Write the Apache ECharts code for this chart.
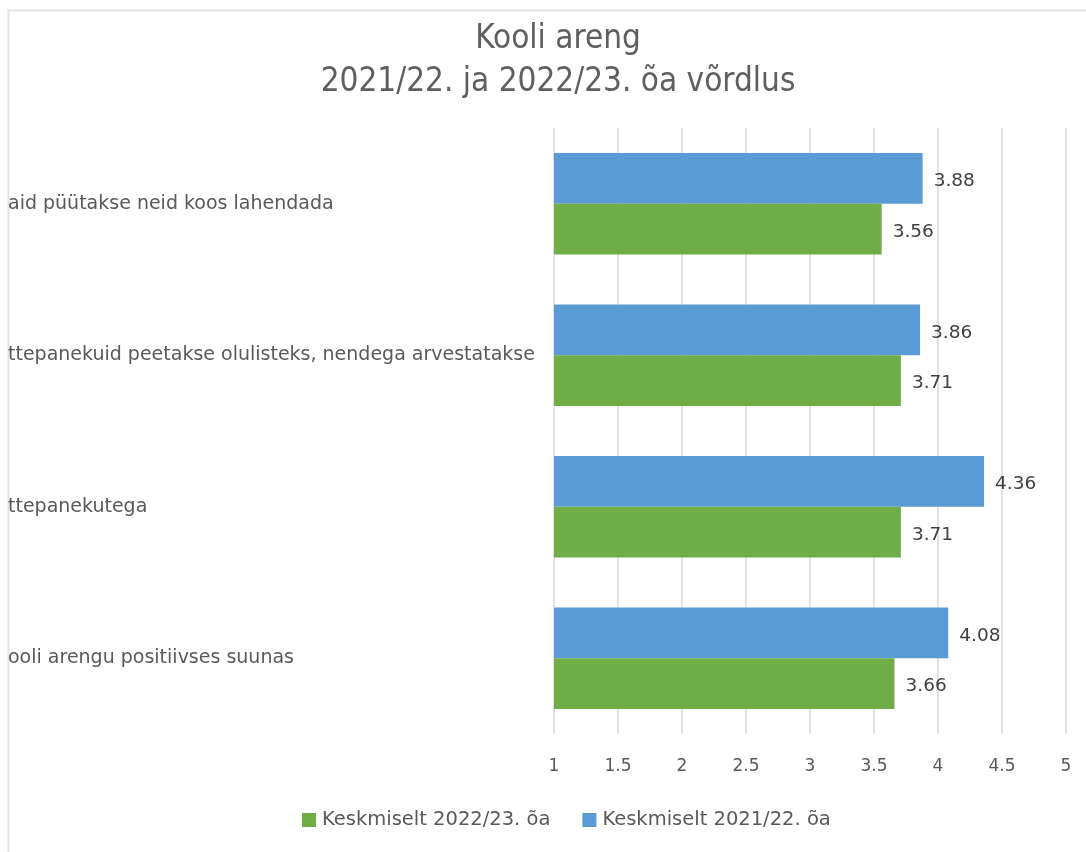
<!DOCTYPE html>
<html>
<head>
<meta charset="utf-8">
<script src="https://cdn.jsdelivr.net/npm/echarts@6/dist/echarts.min.js"></script>
<style>
html,body{margin:0;padding:0;background:#fff;}
#chart{width:1086px;height:852px;}
</style>
</head>
<body>
<div id="chart"></div>
<script>
var titleText = 'Kooli areng\n2021/22. ja 2022/23. õa võrdlus';
var categories = [
  'aid püütakse neid koos lahendada',
  'ttepanekuid peetakse olulisteks, nendega arvestatakse',
  'ttepanekutega',
  'ooli arengu positiivses suunas'
];
var seriesNames = ['Keskmiselt 2022/23. õa', 'Keskmiselt 2021/22. õa'];
var values2022 = [3.56, 3.71, 3.71, 3.66];
var values2021 = [3.88, 3.86, 4.36, 4.08];
var axisMin = 1, axisMax = 5, axisStep = 0.5;

var chart = echarts.init(document.getElementById('chart'), null, {renderer:'canvas'});
var font = '"DejaVu Sans", sans-serif';
var labelCommon = {show:true, position:'right', distance:11, offset:[0,3], color:'#404040', fontSize:18.5, fontFamily:font,
  formatter:function(p){return p.value.toFixed(2);}};
chart.setOption({
  backgroundColor:'#fff',
  animation:false,
  graphic:[{type:'rect', shape:{x:8.5, y:10.5, width:1200, height:1000},
    style:{fill:'none', stroke:'#e3e3e3', lineWidth:2}, silent:true}],
  title:{text:titleText, left:553, textAlign:'center', top:13,
    textStyle:{fontFamily:'"DejaVu Sans Condensed", sans-serif', fontWeight:'normal',
      fontSize:33, color:'#5f5f5f', lineHeight:43}},
  legend:{bottom:17, left:297, itemWidth:14, itemHeight:14, itemGap:32, icon:'rect',
    data:seriesNames,
    textStyle:{fontFamily:font, fontSize:19.5, color:'#595959', padding:[0,0,0,1]}},
  grid:{left:554, right:20, top:128, height:606, containLabel:false},
  xAxis:{type:'value', min:axisMin, max:axisMax, interval:axisStep,
    axisLine:{show:false}, axisTick:{show:false},
    splitLine:{show:true, lineStyle:{color:'#d9d9d9', width:1.5}},
    axisLabel:{color:'#595959', fontSize:17, fontFamily:font, margin:24}},
  yAxis:{type:'category', data:categories, inverse:true,
    axisLine:{show:false}, axisTick:{show:false},
    axisLabel:{align:'left', margin:546, color:'#595959', fontSize:19, fontFamily:font, padding:[6,0,0,0]}},
  series:[
    {name:seriesNames[1], type:'bar', data:values2021, itemStyle:{color:'#5B9BD5'},
      barGap:'0%', barCategoryGap:'33%', label:labelCommon},
    {name:seriesNames[0], type:'bar', data:values2022, itemStyle:{color:'#70AD47'},
      barGap:'0%', barCategoryGap:'33%', label:labelCommon}
  ]
});
</script>
</body>
</html>
